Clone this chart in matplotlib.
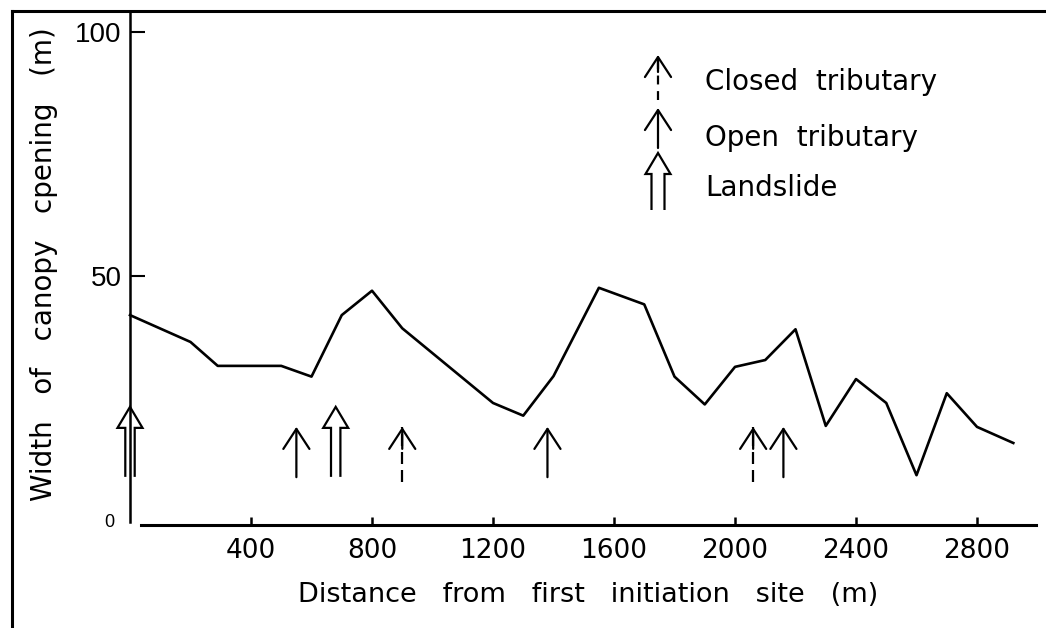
import matplotlib
matplotlib.use('Agg')
import matplotlib.pyplot as plt
import matplotlib.transforms as mtransforms
from matplotlib.path import Path
from matplotlib.patches import PathPatch
from matplotlib.lines import Line2D

plt.rcParams['font.family'] = ['DejaVu Sans']

# canopy opening along the channel
distance = [0, 200, 290, 500, 600, 700, 800, 900, 1200, 1300, 1400, 1550,
            1700, 1800, 1900, 2000, 2100, 2200, 2300, 2400, 2500, 2600,
            2700, 2800, 2920]
width = [42, 36.5, 31.6, 31.6, 29.4, 42, 47, 39.3, 24, 21.4, 29.5, 47.6,
         44.2, 29.4, 23.7, 31.4, 32.8, 39.1, 19.3, 28.9, 24, 9.2,
         26, 19.1, 15.8]

# where the tributaries / landslides join
landslide_x = [0, 680]
open_x = [550, 1380, 2160]
closed_x = [900, 2060]

x_ticks = [400, 800, 1200, 1600, 2000, 2400, 2800]
y_ticks = [0, 50, 100]

legend_labels = ['Closed  tributary', 'Open  tributary', 'Landslide']

W, H = 1046, 628
fig = plt.figure(figsize=(W / 100, H / 100), dpi=100)
ax = fig.add_axes([130 / W, (H - 525) / H, 906 / W, 513 / H])

ax.plot(distance, width, color='black', lw=1.9, clip_on=False)

LW = 1.6
head = dict(arrowstyle='->, head_length=1.44, head_width=0.94', lw=LW,
            color='black', shrinkA=0, shrinkB=0, mutation_scale=10)

# arrow heights (in m of the y scale)
tip_small, tip_big = 19.1, 23.2
tail_open, tail_closed, tail_big = 8.8, 7.8, 8.8

for x in open_x:
    ax.annotate('', xy=(x, tip_small), xytext=(x, tail_open), arrowprops=head)

for x in closed_x:
    ax.plot([x, x], [tail_closed, tip_small], color='black', lw=LW,
            dashes=(5.4, 2.7))
    ax.annotate('', xy=(x, tip_small), xytext=(x, tip_small - 4.5),
                arrowprops=head)

# hollow double-shafted arrow, in pixels from the tip
def landslide_path(half_shaft=4.7, length=70):
    verts = [(-half_shaft, -length), (-half_shaft, -21), (-12.5, -21), (0, 0),
             (12.5, -21), (half_shaft, -21), (half_shaft, -length)]
    verts = [(a / 100, b / 100) for a, b in verts]
    return Path(verts)

for x in landslide_x:
    tr = fig.dpi_scale_trans + mtransforms.ScaledTranslation(x, tip_big, ax.transData)
    p = PathPatch(landslide_path(), fill=False, lw=LW, ec='black',
                  transform=tr, clip_on=False, joinstyle='miter')
    ax.add_artist(p)

# legend drawn by hand
lx = 658
fig.add_artist(Line2D([lx / 100, lx / 100], [(H - 100) / 100, (H - 58) / 100],
                      transform=fig.dpi_scale_trans, color='black', lw=LW,
                      dashes=(4, 3)))
ax.annotate('', xy=(lx, H - 55), xytext=(lx, H - 72), xycoords='figure pixels',
            arrowprops=head)
ax.annotate('', xy=(lx, H - 108), xytext=(lx, H - 148), xycoords='figure pixels',
            arrowprops=head)
tr = fig.dpi_scale_trans + mtransforms.ScaledTranslation(lx / 100, (H - 153) / 100,
                                                         fig.dpi_scale_trans)
fig.add_artist(PathPatch(landslide_path(6.5, 57), fill=False, lw=LW, ec='black',
                         transform=tr, joinstyle='miter'))
for lab, yy in zip(legend_labels, [82, 138, 188]):
    fig.text(705 / W, (H - yy) / H, lab, fontsize=20, va='center', ha='left')

# axes
ax.set_xlim(0, 2995)
ax.set_ylim(-1.0, 104.1)
for s in ['top', 'right']:
    ax.spines[s].set_visible(False)
ax.spines['bottom'].set_bounds(36, 2995)
ax.spines['bottom'].set_linewidth(2.2)
ax.spines['left'].set_bounds(-0.3, 104.1)
ax.spines['left'].set_linewidth(1.8)

ax.set_xticks(x_ticks)
ax.set_xticklabels([str(t) for t in x_ticks])
ax.set_yticks(y_ticks)
ax.set_yticklabels([str(t) for t in y_ticks], family='Liberation Sans')
ax.tick_params(axis='x', direction='in', length=6, width=1.8, pad=9, labelsize=19)
ax.tick_params(axis='y', direction='in', length=11, width=1.5, pad=6, labelsize=20)
t0 = ax.yaxis.get_major_ticks()[0]
t0.tick1line.set_visible(False)
t0.label1.set_fontsize(13)
t0.set_pad(11)

ax.set_xlabel('Distance   from   first   initiation   site   (m)', fontsize=19.5)
ax.xaxis.set_label_coords(0.5055, -0.112)
ax.set_ylabel('Width   of   canopy   cpening   (m)', fontsize=20)
ax.yaxis.set_label_coords(-0.079, 0.509)

# frame lines of the original page (top and left only)
fig.add_artist(Line2D([12 / W, 1], [(H - 11) / H] * 2, transform=fig.transFigure,
                      color='black', lw=2.2))
fig.add_artist(Line2D([12 / W] * 2, [0, (H - 11) / H], transform=fig.transFigure,
                      color='black', lw=2.2))

fig.savefig('out.png', dpi=100)
